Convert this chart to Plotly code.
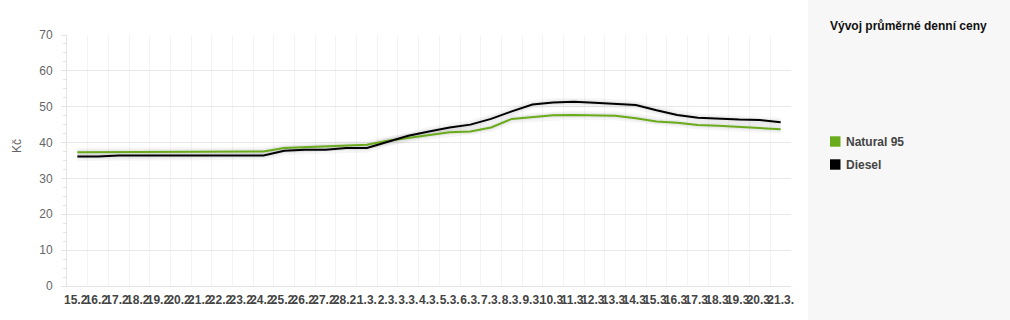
import plotly.graph_objects as go

# ---- data ----
dates = ["15.2.", "16.2.", "17.2.", "18.2.", "19.2.", "20.2.", "21.2.", "22.2.", "23.2.", "24.2.",
         "25.2.", "26.2.", "27.2.", "28.2.", "1.3.", "2.3.", "3.3.", "4.3.", "5.3.", "6.3.",
         "7.3.", "8.3.", "9.3.", "10.3.", "11.3.", "12.3.", "13.3.", "14.3.", "15.3.", "16.3.",
         "17.3.", "18.3.", "19.3.", "20.3.", "21.3."]
natural95 = [37.3, 37.3, 37.3, 37.3, 37.3, 37.3, 37.3, 37.5, 37.5, 37.5,
             38.5, 38.7, 38.8, 39.1, 39.4, 40.5, 41.3, 42.1, 42.9, 43.1,
             44.2, 46.6, 47.1, 47.6, 47.7, 47.5, 47.5, 46.8, 45.9, 45.5,
             44.9, 44.7, 44.35, 44.1, 43.7]
diesel = [36.1, 36.1, 36.4, 36.4, 36.4, 36.4, 36.4, 36.4, 36.4, 36.4,
          37.7, 38.0, 38.0, 38.5, 38.5, 40.2, 41.9, 43.1, 44.2, 45.0,
          46.6, 48.7, 50.6, 51.2, 51.35, 51.1, 50.8, 50.5, 49.0, 47.7,
          46.9, 46.6, 46.4, 46.3, 45.65]
series_names = ["Natural 95", "Diesel"]
series_colors = ["#6aab1b", "#000000"]
chart_title = "Vývoj průměrné denní ceny"
y_title = "Kč"

# ---- layout geometry (pixels) ----
W, H = 1010, 320
L, R, T, B = 67, 219, 35, 34
PW, PH = W - L - R, H - T - B


def px_x(x):
    return (x - L) / PW


def px_y(y):
    return (H - B - y) / PH


FONT = "Liberation Sans, Arial, sans-serif"

fig = go.Figure()

# subtle shadow under lines
for vals in (natural95, diesel):
    fig.add_trace(go.Scatter(x=dates, y=vals, mode="lines",
                             line=dict(color="rgba(0,0,0,0.035)", width=9, shape="linear"),
                             hoverinfo="skip", showlegend=False))
    fig.add_trace(go.Scatter(x=dates, y=vals, mode="lines",
                             line=dict(color="rgba(0,0,0,0.05)", width=5),
                             hoverinfo="skip", showlegend=False))

for name, vals, col in zip(series_names, (natural95, diesel), series_colors):
    fig.add_trace(go.Scatter(x=dates, y=vals, mode="lines", name=name,
                             line=dict(color=col, width=2), showlegend=False))

shapes = [
    dict(type="rect", xref="paper", yref="paper",
         x0=px_x(808), x1=px_x(1012), y0=px_y(322), y1=px_y(-2),
         fillcolor="#f7f7f7", line=dict(width=0), layer="below"),
]
annotations = [
    dict(text="<b>" + chart_title + "</b>", xref="paper", yref="paper",
         x=px_x(828), y=px_y(26), xanchor="left", yanchor="middle", showarrow=False,
         font=dict(family=FONT, size=12, color="#111111")),
    dict(text=y_title, xref="paper", yref="paper", x=px_x(17), y=px_y(146),
         xanchor="center", yanchor="middle", textangle=-90, showarrow=False,
         font=dict(family=FONT, size=12, color="#666666")),
]
leg_y = [141.5, 164.5]
for name, col, ly in zip(series_names, series_colors, leg_y):
    shapes.append(dict(type="rect", xref="paper", yref="paper",
                       x0=px_x(830), x1=px_x(840.5), y0=px_y(ly + 5.2), y1=px_y(ly - 5.2),
                       fillcolor=col, line=dict(width=0)))
    annotations.append(dict(text="<b>" + name + "</b>", xref="paper", yref="paper",
                            x=px_x(843.5), y=px_y(ly), xanchor="left", yanchor="middle",
                            showarrow=False, font=dict(family=FONT, size=12, color="#444444")))

fig.update_layout(
    width=W, height=H,
    margin=dict(l=L, r=R, t=T, b=B, pad=0),
    paper_bgcolor="white", plot_bgcolor="white",
    font=dict(family=FONT, size=12, color="#666666"),
    showlegend=False,
    shapes=shapes, annotations=annotations,
    xaxis=dict(type="category", tickmode="array", tickvals=dates, ticktext=dates,
               range=[-0.5, len(dates) - 0.5],
               tickangle=0, tickson="boundaries", ticks="",
               showgrid=True, gridcolor="#f3f3f3", gridwidth=1,
               showline=True, linecolor="#e3e3e3", linewidth=1,
               tickfont=dict(family=FONT, size=12, color="#444444", weight="bold"),
               ticklabelstandoff=3, zeroline=False, fixedrange=True),
    yaxis=dict(range=[0, 70], dtick=10, tick0=0,
               showgrid=True, gridcolor="#e8e8e8", gridwidth=1,
               showline=True, linecolor="#e3e3e3", linewidth=1,
               ticks="outside", ticklen=5, tickcolor="#e3e3e3", tickwidth=1,
               minor=dict(dtick=2.5, ticks="outside", ticklen=3, tickcolor="#e3e3e3",
                          showgrid=False),
               tickfont=dict(family=FONT, size=12, color="#666666"),
               ticklabelstandoff=6, zeroline=False, fixedrange=True),
)

fig.write_html("out.html")
